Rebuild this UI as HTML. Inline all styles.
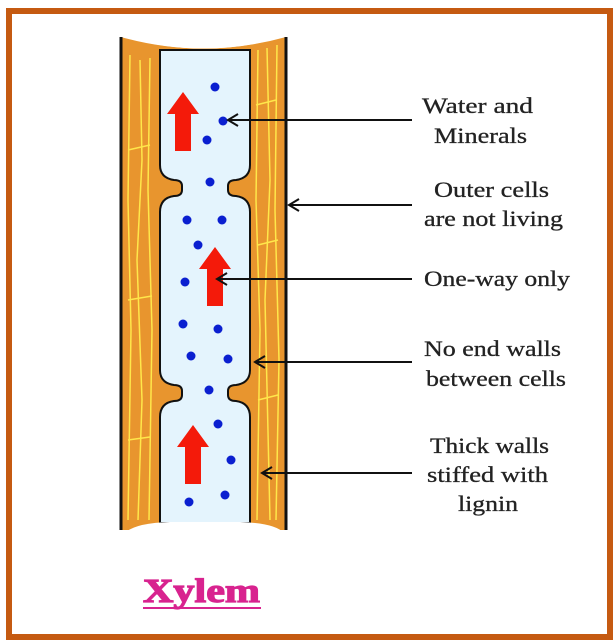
<!DOCTYPE html>
<html><head><style>
html,body{margin:0;padding:0;background:#fff;}
body{width:616px;height:642px;position:relative;overflow:hidden;}
svg{position:absolute;left:0;top:0;}
</style></head><body>
<svg width="616" height="642" viewBox="0 0 616 642" xmlns="http://www.w3.org/2000/svg">
<rect x="9" y="11" width="601" height="626" fill="#fff" stroke="#c55a11" stroke-width="6"/>
<path d="M121 37 Q203 60 286 37 L286 530 L121 530 Z" fill="#e8952e"/>
<g fill="none" stroke="#ffe74a" stroke-width="1.5">
<path d="M130 55 L128 200 L131 330 L128 520"/>
<path d="M140 60 L142 160 L137 260 L142 400 L138 520"/>
<path d="M150 58 L148 190 L152 330 L149 520"/>
<path d="M128 150 L150 145 M128 300 L152 296 M128 440 L150 437"/>
<path d="M258 50 L256 200 L260 330 L257 520"/>
<path d="M267 48 L270 180 L265 300 L270 520"/>
<path d="M277 45 L275 210 L279 360 L276 520"/>
<path d="M256 105 L276 100 M258 245 L278 240 M258 400 L278 395"/>
</g>
<line x1="121" y1="37" x2="121" y2="530" stroke="#111" stroke-width="3"/>
<line x1="286" y1="37" x2="286" y2="530" stroke="#111" stroke-width="3"/>
<path d="M160 50 L160 165 Q160 178 174 180 Q182 180 182 186 L182 190 Q182 196 174 196 Q160 198 160 212 L160 370 Q160 383 174 385 Q182 385 182 391 L182 395 Q182 401 174 401 Q160 403 160 417 L160 523 L250 523 L250 417 Q250 403 236 401 Q228 401 228 395 L228 391 Q228 385 236 385 Q250 383 250 370 L250 212 Q250 198 236 196 Q228 196 228 190 L228 186 Q228 180 236 180 Q250 178 250 165 L250 50 Z" fill="#e4f4fd" stroke="#111" stroke-width="2"/>
<path d="M118 20 L290 20 L290 35 Q203 62 118 35 Z" fill="#fff"/>
<path d="M115 545 L125 533 Q135 523 170 522 L240 522 Q275 523 284 533 L292 545 Z" fill="#fff"/>
<g fill="#0a1fd0">
<circle cx="215" cy="87" r="4.5"/><circle cx="223" cy="121" r="4.5"/><circle cx="207" cy="140" r="4.5"/>
<circle cx="210" cy="182" r="4.5"/><circle cx="187" cy="220" r="4.5"/><circle cx="222" cy="220" r="4.5"/>
<circle cx="198" cy="245" r="4.5"/><circle cx="185" cy="282" r="4.5"/><circle cx="183" cy="324" r="4.5"/>
<circle cx="218" cy="329" r="4.5"/><circle cx="191" cy="356" r="4.5"/><circle cx="228" cy="359" r="4.5"/>
<circle cx="209" cy="390" r="4.5"/><circle cx="218" cy="424" r="4.5"/><circle cx="231" cy="460" r="4.5"/>
<circle cx="225" cy="495" r="4.5"/><circle cx="189" cy="502" r="4.5"/>
</g>
<g fill="#f41a0a">
<path d="M183 92 L199 114 L191 114 L191 151 L175 151 L175 114 L167 114 Z"/>
<path d="M215 247 L231 269 L223 269 L223 306 L207 306 L207 269 L199 269 Z"/>
<path d="M193 425 L209 447 L201 447 L201 484 L185 484 L185 447 L177 447 Z"/>
</g>
<g stroke="#111" stroke-width="2" fill="none">
<line x1="228" y1="120" x2="412" y2="120"/><path d="M238 114 L228 120 L238 126"/>
<line x1="289" y1="205" x2="412" y2="205"/><path d="M299 199 L289 205 L299 211"/>
<line x1="217" y1="279" x2="412" y2="279"/><path d="M227 273 L217 279 L227 285"/>
<line x1="255" y1="362" x2="412" y2="362"/><path d="M265 356 L255 362 L265 368"/>
<line x1="262" y1="473" x2="412" y2="473"/><path d="M272 467 L262 473 L272 479"/>
</g>
<g font-family="'Liberation Serif',serif" font-size="22" fill="#222" stroke="#222" stroke-width="0.3">
<text x="422" y="113" textLength="111" lengthAdjust="spacingAndGlyphs">Water and</text>
<text x="434" y="143" textLength="93" lengthAdjust="spacingAndGlyphs">Minerals</text>
<text x="434" y="197" textLength="115" lengthAdjust="spacingAndGlyphs">Outer cells</text>
<text x="424" y="226" textLength="139" lengthAdjust="spacingAndGlyphs">are not living</text>
<text x="424" y="286" textLength="146" lengthAdjust="spacingAndGlyphs">One-way only</text>
<text x="424" y="356" textLength="137" lengthAdjust="spacingAndGlyphs">No end walls</text>
<text x="426" y="386" textLength="140" lengthAdjust="spacingAndGlyphs">between cells</text>
<text x="430" y="453" textLength="119" lengthAdjust="spacingAndGlyphs">Thick walls</text>
<text x="427" y="482" textLength="121" lengthAdjust="spacingAndGlyphs">stiffed with</text>
<text x="458" y="511" textLength="60" lengthAdjust="spacingAndGlyphs">lignin</text>
</g>
<text x="143" y="602" textLength="117" lengthAdjust="spacingAndGlyphs" font-family="'Liberation Serif',serif" font-size="34" font-weight="bold" fill="#d8238f" stroke="#d8238f" stroke-width="1.2">Xylem</text>
<line x1="143" y1="608" x2="261" y2="608" stroke="#d8238f" stroke-width="2"/>
</svg>
</body></html>
